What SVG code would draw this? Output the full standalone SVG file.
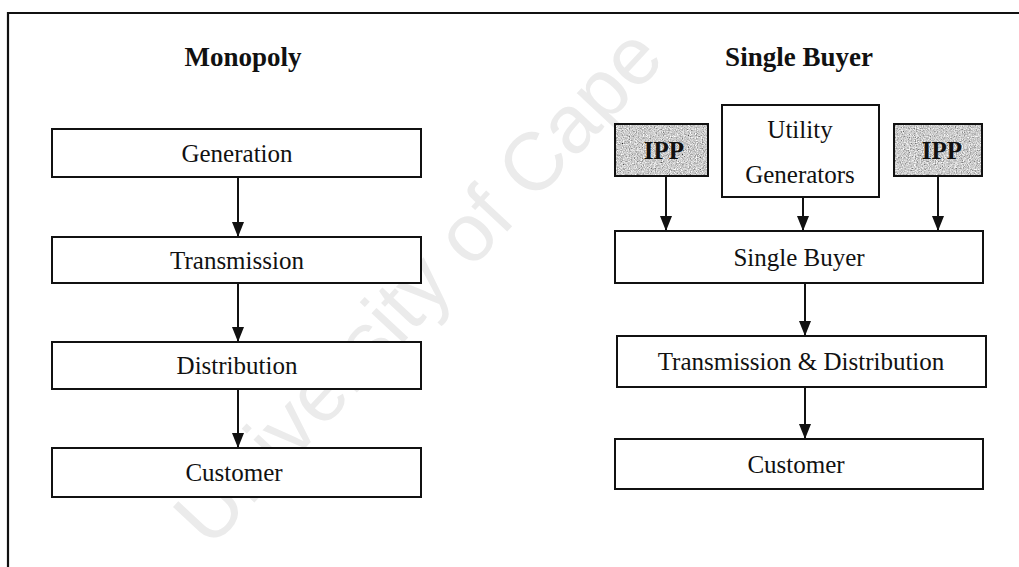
<svg xmlns="http://www.w3.org/2000/svg" width="1019" height="567" viewBox="0 0 1019 567">
  <style>
    .box { fill: #ffffff; stroke: #111111; stroke-width: 2; }
    .frame { fill: none; stroke: #111111; stroke-width: 2.2; }
    .lbl { font-family: "Liberation Serif", "Times New Roman", serif; font-size: 25px; fill: #111111; text-anchor: middle; }
    .title { font-family: "Liberation Serif", "Times New Roman", serif; font-size: 27px; font-weight: bold; fill: #111111; text-anchor: middle; }
    .ipp { font-family: "Liberation Serif", "Times New Roman", serif; font-size: 25px; font-weight: bold; fill: #111111; text-anchor: middle; }
    .wire { stroke: #111111; stroke-width: 2; fill: none; marker-end: url(#head); }
    .mark { font-family: "Liberation Sans", Arial, sans-serif; font-size: 82px; fill: #ebebeb; }
  </style>
  <defs>
    <marker id="head" viewBox="0 0 15 12" refX="15" refY="6" markerWidth="15" markerHeight="12" markerUnits="userSpaceOnUse" orient="auto">
      <path d="M0,0 L15,6 L0,12 Z" fill="#111111"/>
    </marker>
    <filter id="grain" x="0" y="0" width="1" height="1">
      <feTurbulence type="fractalNoise" baseFrequency="0.85" numOctaves="2" seed="7" result="t"/>
      <feColorMatrix in="t" type="matrix" values="0.9 0.9 0 0 -0.3  0.9 0.9 0 0 -0.3  0.9 0.9 0 0 -0.3  0 0 0 0 1" result="g"/>
      <feComposite in="g" in2="SourceGraphic" operator="in"/>
    </filter>
  </defs>

  <rect width="1019" height="567" fill="#ffffff"/>

  <!-- faint diagonal watermark -->
  <text class="mark" transform="translate(210,550) rotate(-47)">University of Cape</text>

  <!-- page frame -->
  <path class="frame" d="M8,567 L8,13 L1019,13"/>

  <!-- headings -->
  <text class="title" x="243" y="66">Monopoly</text>
  <text class="title" x="799" y="66">Single Buyer</text>

  <!-- connectors -->
  <g id="connectors">
    <line class="wire" x1="238" y1="177" x2="238" y2="237"/>
    <line class="wire" x1="238" y1="283" x2="238" y2="342"/>
    <line class="wire" x1="238" y1="389" x2="238" y2="448"/>
    <line class="wire" x1="666" y1="176" x2="666" y2="231"/>
    <line class="wire" x1="803" y1="197" x2="803" y2="231"/>
    <line class="wire" x1="938" y1="176" x2="938" y2="231"/>
    <line class="wire" x1="805" y1="283" x2="805" y2="336"/>
    <line class="wire" x1="805" y1="387" x2="805" y2="439"/>
  </g>

  <!-- Monopoly chain -->
  <g id="generation">
    <rect class="box" x="52" y="129" width="369" height="48"/>
    <text class="lbl" x="237" y="162">Generation</text>
  </g>
  <g id="transmission">
    <rect class="box" x="52" y="237" width="369" height="46"/>
    <text class="lbl" x="237" y="269">Transmission</text>
  </g>
  <g id="distribution">
    <rect class="box" x="52" y="342" width="369" height="47"/>
    <text class="lbl" x="237" y="374">Distribution</text>
  </g>
  <g id="customer-monopoly">
    <rect class="box" x="52" y="448" width="369" height="49"/>
    <text class="lbl" x="234" y="481">Customer</text>
  </g>

  <!-- Single Buyer chain -->
  <g id="ipp-left">
    <rect x="615" y="124" width="93" height="52" fill="#ffffff" filter="url(#grain)"/>
    <rect x="615" y="124" width="93" height="52" fill="none" stroke="#111111" stroke-width="2"/>
    <text class="ipp" x="664" y="159">IPP</text>
  </g>
  <g id="utility-generators">
    <rect class="box" x="722" y="105" width="157" height="92"/>
    <text class="lbl" x="800" y="138">Utility</text>
    <text class="lbl" x="800" y="183">Generators</text>
  </g>
  <g id="ipp-right">
    <rect x="894" y="124" width="88" height="52" fill="#ffffff" filter="url(#grain)"/>
    <rect x="894" y="124" width="88" height="52" fill="none" stroke="#111111" stroke-width="2"/>
    <text class="ipp" x="942" y="159">IPP</text>
  </g>
  <g id="single-buyer">
    <rect class="box" x="615" y="231" width="368" height="52"/>
    <text class="lbl" x="799" y="266">Single Buyer</text>
  </g>
  <g id="transmission-distribution">
    <rect class="box" x="617" y="336" width="369" height="51"/>
    <text class="lbl" x="801" y="370">Transmission &amp; Distribution</text>
  </g>
  <g id="customer-single-buyer">
    <rect class="box" x="615" y="439" width="368" height="50"/>
    <text class="lbl" x="796" y="473">Customer</text>
  </g>
</svg>
